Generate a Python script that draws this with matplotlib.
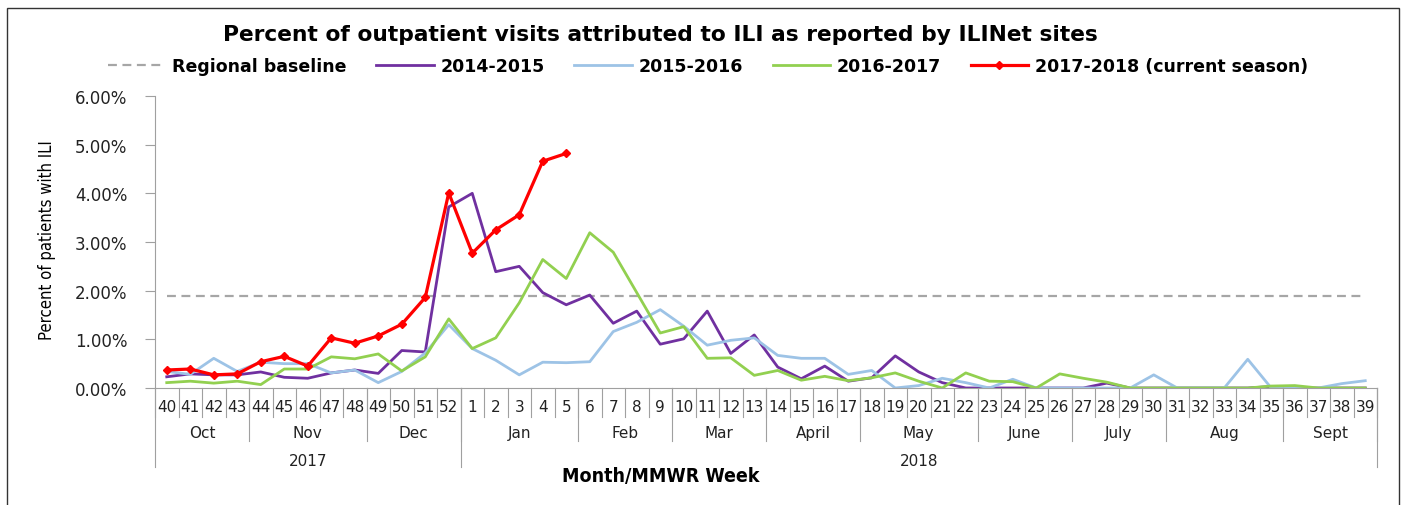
import numpy as np
import matplotlib
matplotlib.use("Agg")
import matplotlib.pyplot as plt
from matplotlib.patches import Rectangle

# MMWR weeks, Oct 2017 -> Sept 2018
weeks = [str(w) for w in range(40, 53)] + [str(w) for w in range(1, 40)]
months = ["Oct", "Nov", "Dec", "Jan", "Feb", "Mar", "April", "May", "June", "July", "Aug", "Sept"]
month_weeks = [4, 5, 4, 5, 4, 4, 4, 5, 4, 4, 5, 4]
years = ["2017", "2018"]
year_weeks = [13, 39]

baseline = 1.89

s2014 = [0.23, 0.29, 0.27, 0.27, 0.33, 0.22, 0.20, 0.31, 0.37, 0.30, 0.77, 0.74, 3.72,
         4.00, 2.39, 2.50, 1.96, 1.71, 1.91, 1.33, 1.58, 0.90, 1.01, 1.58, 0.71, 1.09,
         0.43, 0.19, 0.45, 0.14, 0.21, 0.66, 0.33, 0.11, 0.00, 0.00, 0.00, 0.00, 0.00,
         0.00, 0.10, 0.00, 0.00, 0.00, 0.00, 0.00, 0.00, 0.03, 0.00, 0.00, 0.00, 0.00]
s2015 = [0.34, 0.28, 0.61, 0.34, 0.53, 0.50, 0.50, 0.31, 0.37, 0.11, 0.34, 0.72, 1.30,
         0.81, 0.57, 0.27, 0.53, 0.52, 0.54, 1.16, 1.35, 1.61, 1.27, 0.88, 0.98, 1.03,
         0.67, 0.61, 0.61, 0.28, 0.36, 0.00, 0.05, 0.20, 0.11, 0.00, 0.18, 0.00, 0.00,
         0.00, 0.00, 0.00, 0.27, 0.00, 0.00, 0.00, 0.59, 0.00, 0.00, 0.00, 0.09, 0.15]
s2016 = [0.11, 0.14, 0.10, 0.14, 0.07, 0.39, 0.39, 0.64, 0.60, 0.70, 0.35, 0.64, 1.42,
         0.81, 1.03, 1.75, 2.64, 2.25, 3.19, 2.79, 1.96, 1.13, 1.26, 0.61, 0.62, 0.26,
         0.36, 0.16, 0.24, 0.15, 0.21, 0.31, 0.14, 0.00, 0.31, 0.14, 0.13, 0.00, 0.29,
         0.20, 0.12, 0.00, 0.00, 0.00, 0.00, 0.00, 0.00, 0.04, 0.05, 0.00, 0.00, 0.00]
s2017 = [0.37, 0.39, 0.27, 0.29, 0.54, 0.65, 0.45, 1.03, 0.92, 1.07, 1.31, 1.86, 4.01,
         2.77, 3.25, 3.56, 4.66, 4.82]

W, H = 1405, 506
fig = plt.figure(figsize=(W / 100, H / 100), dpi=100)
ax = fig.add_axes([155 / W, 1 - 389 / H, 1222 / W, 292 / H])

x = np.arange(len(weeks))
ax.plot(x, [baseline] * len(x), color="#A6A6A6", lw=1.6, ls=(0, (4, 2.5)), label="Regional baseline")
ax.plot(x, s2014, color="#7030A0", lw=2.0, label="2014-2015")
ax.plot(x, s2015, color="#9DC3E6", lw=2.0, label="2015-2016")
ax.plot(x, s2016, color="#92D050", lw=2.0, label="2016-2017")
ax.plot(np.arange(len(s2017)), s2017, color="#FF0000", lw=2.3, marker="D", ms=4.5,
        label="2017-2018 (current season)")

ax.set_xlim(-0.5, len(weeks) - 0.5)
ax.set_ylim(0, 6)
ax.set_yticks(range(7))
ax.set_yticklabels(["%.2f%%" % v for v in range(7)], fontsize=12, color="#222222")
ax.tick_params(axis="y", direction="out", length=7, color="#A0A0A0", pad=13)
ax.set_xticks([])
for s in ["top", "right"]:
    ax.spines[s].set_visible(False)
ax.spines["left"].set_color("#A0A0A0")
ax.spines["bottom"].set_color("#A0A0A0")

tr = ax.get_xaxis_transform()
gc = "#A0A0A0"
# week row
for k in range(len(weeks) + 1):
    ax.plot([k - 0.5, k - 0.5], [0, -0.099], color=gc, lw=0.8, transform=tr, clip_on=False)
for i, w in enumerate(weeks):
    ax.text(i, -0.062, w, ha="center", va="center", fontsize=11, transform=tr, color="#222222")
# month row
pos = 0
for m, n in zip(months, month_weeks):
    ax.text(pos + n / 2 - 0.5, -0.151, m, ha="center", va="center", fontsize=11,
            transform=tr, color="#222222")
    pos += n
    ax.plot([pos - 0.5, pos - 0.5], [0, -0.182], color=gc, lw=0.8, transform=tr, clip_on=False)
# year row
pos = 0
ax.plot([-0.5, -0.5], [0, -0.27], color=gc, lw=0.8, transform=tr, clip_on=False)
for yname, n in zip(years, year_weeks):
    ax.text(pos + n / 2 - 0.5, -0.247, yname, ha="center", va="center", fontsize=11,
            transform=tr, color="#222222")
    pos += n
    ax.plot([pos - 0.5, pos - 0.5], [0, -0.27], color=gc, lw=0.8, transform=tr, clip_on=False)

fig.text(660 / W, 1 - 35 / H, "Percent of outpatient visits attributed to ILI as reported by ILINet sites",
         ha="center", va="center", fontsize=15.7, fontweight="bold")
fig.text(661 / W, 1 - 477 / H, "Month/MMWR Week", ha="center", va="center",
         fontsize=14, fontweight="bold", fontstretch="condensed")
fig.text(47 / W, 1 - 240 / H, "Percent of patients with ILI", rotation=90, ha="center",
         va="center", fontsize=12, fontstretch="condensed")

handles, labels = ax.get_legend_handles_labels()
leg = fig.legend(handles, labels, loc="center", bbox_to_anchor=(708 / W, 1 - 67 / H), ncol=5,
                 frameon=False, handlelength=3.3, handletextpad=0.4, columnspacing=1.7,
                 prop={"weight": "bold", "size": 12.5})

fig.patches.append(Rectangle((7 / W, -0.05), 1392 / W, 1.05 - 9 / H, transform=fig.transFigure,
                             fill=False, edgecolor="#333333", lw=1))

fig.savefig("out.png", dpi=100)
